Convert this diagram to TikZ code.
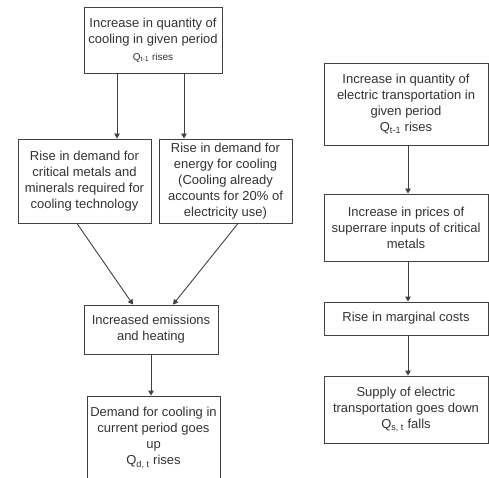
\documentclass[tikz,border=0pt]{standalone}
\usepackage{fontspec}
\setmainfont{Liberation Sans}
\usetikzlibrary{arrows.meta}
\definecolor{txt}{HTML}{333333}
\definecolor{ln}{HTML}{404040}
\begin{document}
\begin{tikzpicture}[x=1bp,y=-1bp,
  box/.style={draw=ln,line width=0.9bp,fill=white,align=center,inner sep=0pt,
    text=txt,font=\fontsize{13bp}{16bp}\selectfont},
  arr/.style={draw=ln,line width=0.9bp,-{Triangle[width=5.5bp,length=5bp]}},
  small/.style={}]
\useasboundingbox[fill=white] (0,0) rectangle (489,478);
% left column
\node[box,minimum width=138bp,minimum height=66bp] (A) at (153,40)
  {Increase in quantity of\\cooling in given period\\[1bp]{\fontsize{10bp}{12bp}\selectfont Q\textsubscript{t-1} rises}};
\node[box,minimum width=133bp,minimum height=84bp] (B) at (84.5,181)
  {Rise in demand for\\critical metals and\\minerals required for\\cooling technology};
\node[box,minimum width=133bp,minimum height=84bp] (C) at (225.5,181)
  {Rise in demand for\\energy for cooling\\(Cooling already\\accounts for 20\% of\\electricity use)};
\node[box,minimum width=134bp,minimum height=49bp] (D) at (151,329.5)
  {Increased emissions\\and heating};
\node[box,minimum width=133bp,minimum height=84bp] (E) at (153.5,438)
  {Demand for cooling in\\current period goes\\up\\Q\textsubscript{d, t} rises};
% right column
\node[box,minimum width=164bp,minimum height=82bp] (R1) at (406,104)
  {Increase in quantity of\\electric transportation in\\given period\\Q\textsubscript{t-1} rises};
\node[box,minimum width=164bp,minimum height=67bp] (R2) at (406,227.5)
  {Increase in prices of\\superrare inputs of critical\\metals};
\node[box,minimum width=164bp,minimum height=33bp] (R3) at (406,318.5)
  {Rise in marginal costs};
\node[box,minimum width=164bp,minimum height=67bp] (R4) at (406,409.5)
  {Supply of electric\\transportation goes down\\Q\textsubscript{s, t} falls};
% connectors
\draw[arr] ([xshift=-36bp]A.south) -- ([xshift=-36bp]A.south |- B.north);
\draw[arr] ([xshift=31bp]A.south) -- ([xshift=31bp]A.south |- C.north);
\draw[arr] ([xshift=-7.5bp]B.south) -- ([xshift=-18bp]D.north);
\draw[arr] ([xshift=12.5bp]C.south) -- ([xshift=22bp]D.north);
\draw[arr] (D.south) -- (D.south |- E.north);
\draw[arr] ([xshift=2bp]R1.south) -- ([xshift=2bp]R1.south |- R2.north);
\draw[arr] ([xshift=2bp]R2.south) -- ([xshift=2bp]R2.south |- R3.north);
\draw[arr] ([xshift=2bp]R3.south) -- ([xshift=2bp]R3.south |- R4.north);
\end{tikzpicture}
\end{document}
